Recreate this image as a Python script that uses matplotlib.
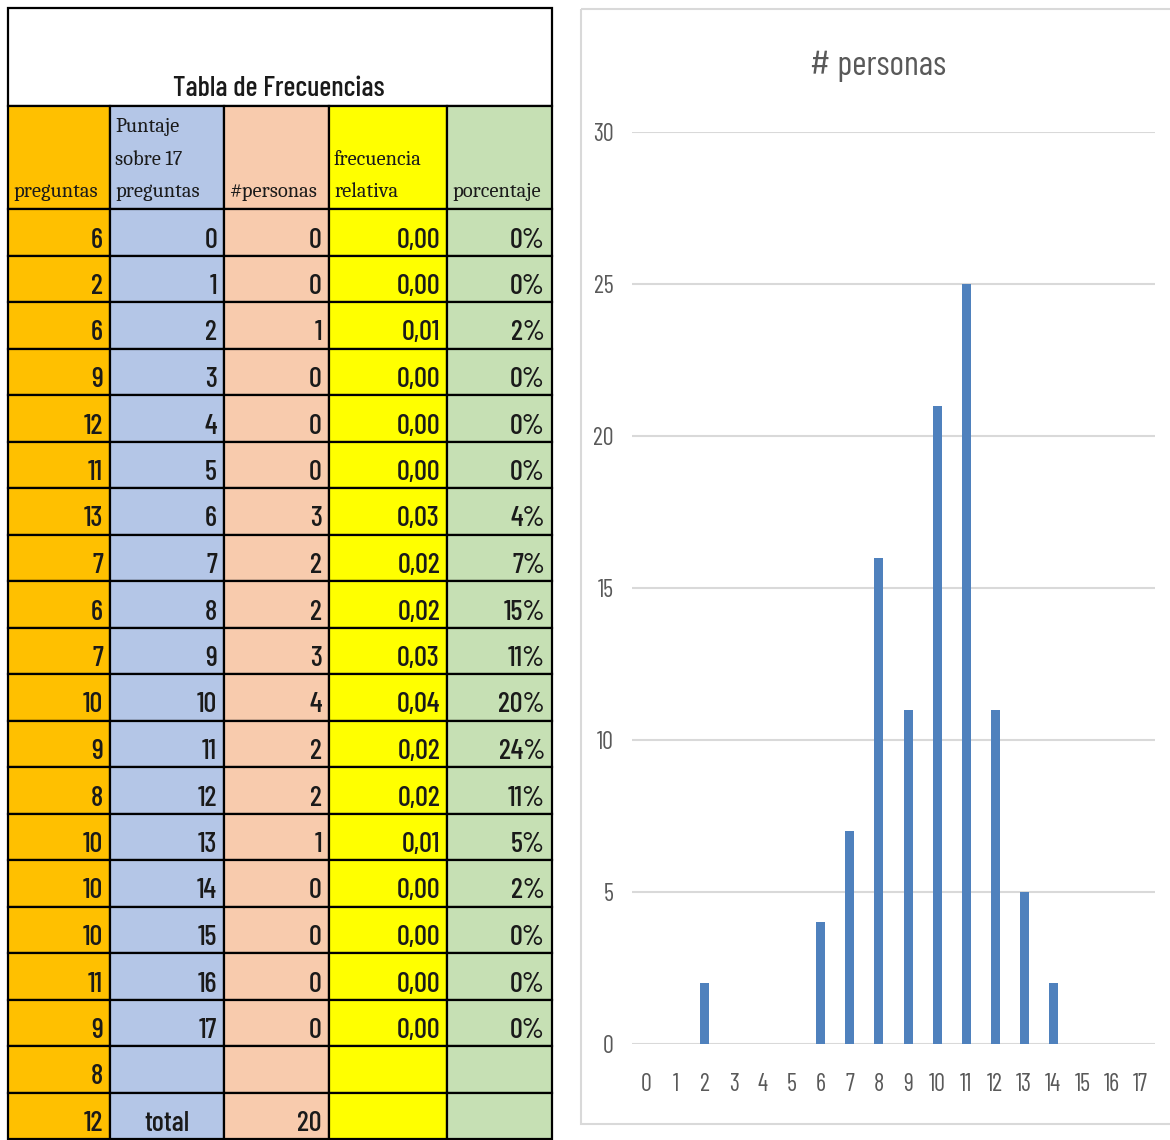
import matplotlib
matplotlib.use("Agg")
import matplotlib.pyplot as plt
from matplotlib.patches import Rectangle

# ---------------- data ----------------
table_title = "Tabla de Frecuencias"
headers = ["preguntas", "Puntaje\nsobre 17\npreguntas", "#personas", "frecuencia\nrelativa", "porcentaje"]
preguntas = [6, 2, 6, 9, 12, 11, 13, 7, 6, 7, 10, 9, 8, 10, 10, 10, 11, 9, 8, 12]
puntaje = list(range(18))
personas = [0, 0, 1, 0, 0, 0, 3, 2, 2, 3, 4, 2, 2, 1, 0, 0, 0, 0]
frecuencia = [0.00, 0.00, 0.01, 0.00, 0.00, 0.00, 0.03, 0.02, 0.02, 0.03,
              0.04, 0.02, 0.02, 0.01, 0.00, 0.00, 0.00, 0.00]
porcentaje = [0, 0, 2, 0, 0, 0, 4, 7, 15, 11, 20, 24, 11, 5, 2, 0, 0, 0]
total_label = "total"
total_personas = 20

chart_title = "# personas"
chart_categories = [str(i) for i in range(18)]
chart_values = [0, 0, 2, 0, 0, 0, 4, 7, 16, 11, 21, 25, 11, 5, 2, 0, 0, 0]
y_ticks = [0, 5, 10, 15, 20, 25, 30]

# ---------------- style / layout ----------------
W, H = 1170, 1140
col_edges = [8, 110, 224, 329, 447, 552]
col_colors = ["#FFC000", "#B4C6E7", "#F8CBAD", "#FFFF00", "#C6E0B4"]
table_top, header_top, data_top, row_h = 8, 106, 209, 46.5
SANS = ["Barlow Condensed", "DejaVu Sans"]
SERIF = ["Caladea", "DejaVu Serif"]
TXT = "#1a1a1a"
GRAY = "#595959"
GRID = "#D9D9D9"
BAR = "#4F81BD"

fig = plt.figure(figsize=(W / 100, H / 100), dpi=100)
fig.patch.set_facecolor("white")

# table drawn in a pixel-unit axes
ax_t = fig.add_axes([0, 0, 1, 1])
ax_t.set_xlim(0, W)
ax_t.set_ylim(H, 0)
ax_t.axis("off")

def cell(x0, x1, y0, y1, fc):
    ax_t.add_patch(Rectangle((x0, y0), x1 - x0, y1 - y0, facecolor=fc,
                             edgecolor="black", linewidth=1.6, zorder=2))

# title row
cell(col_edges[0], col_edges[-1], table_top, header_top, "white")
ax_t.text(279, 96, table_title, ha="center", va="baseline",
          fontsize=20.5, family=SANS, fontweight="medium", color=TXT, zorder=3)

# header row
for c in range(5):
    cell(col_edges[c], col_edges[c + 1], header_top, data_top, col_colors[c])
    ax_t.text(col_edges[c] + 5, 197, headers[c], ha="left", va="baseline",
              fontsize=14.8, family=SERIF, color=TXT, linespacing=1.9, zorder=3)

# data rows
n_rows = len(preguntas)
for r in range(n_rows):
    y0 = data_top + r * row_h
    y1 = y0 + row_h
    if r < len(puntaje):
        vals = [str(preguntas[r]), str(puntaje[r]), str(personas[r]),
                f"{frecuencia[r]:.2f}".replace(".", ","), f"{porcentaje[r]}%"]
    elif r == n_rows - 1:
        vals = [str(preguntas[r]), total_label, str(total_personas), "", ""]
    else:
        vals = [str(preguntas[r]), "", "", "", ""]
    for c in range(5):
        cell(col_edges[c], col_edges[c + 1], y0, y1, col_colors[c])
        if not vals[c]:
            continue
        if vals[c] == total_label:
            ax_t.text((col_edges[c] + col_edges[c + 1]) / 2, y1 - 8, vals[c], ha="center",
                      va="baseline", fontsize=20.5, family=SANS, fontweight="medium",
                      color=TXT, zorder=3)
        else:
            ax_t.text(col_edges[c + 1] - 7, y1 - 8, vals[c], ha="right",
                      va="baseline", fontsize=20.5, family=SANS, fontweight="medium",
                      color=TXT, zorder=3)

# chart frame
ax_t.add_patch(Rectangle((581, 9), 620, 1115, facecolor="none", edgecolor=GRID,
                         linewidth=1.5, zorder=1))

# ---------------- bar chart ----------------
x0, x1, y_zero, y_top = 632, 1155, 1044, 132
ax = fig.add_axes([x0 / W, (H - y_zero) / H, (x1 - x0) / W, (y_zero - y_top) / H])
ax.patch.set_alpha(0)
xs = list(range(len(chart_categories)))
ax.bar(xs, chart_values, width=0.31, color=BAR, zorder=3)
ax.set_xlim(-0.5, len(chart_categories) - 0.5)
ax.set_ylim(0, 30)
ax.set_yticks(y_ticks)
ax.set_xticks(xs)
ax.set_xticklabels(chart_categories)
for s in ax.spines.values():
    s.set_visible(False)
ax.yaxis.grid(True, color=GRID, linewidth=1.5, zorder=0)
ax.set_axisbelow(True)
ax.tick_params(axis="both", length=0, colors=GRAY, labelsize=17.5)
ax.tick_params(axis="y", pad=13)
ax.tick_params(axis="x", pad=21)
for lab in ax.get_xticklabels() + ax.get_yticklabels():
    lab.set_family(SANS)
    lab.set_color(GRAY)

fig.text(878 / W, 1 - 75 / H, chart_title, ha="center", va="baseline",
         fontsize=25, family=SANS, color=GRAY)

fig.savefig("out.png", dpi=100, facecolor="white")
